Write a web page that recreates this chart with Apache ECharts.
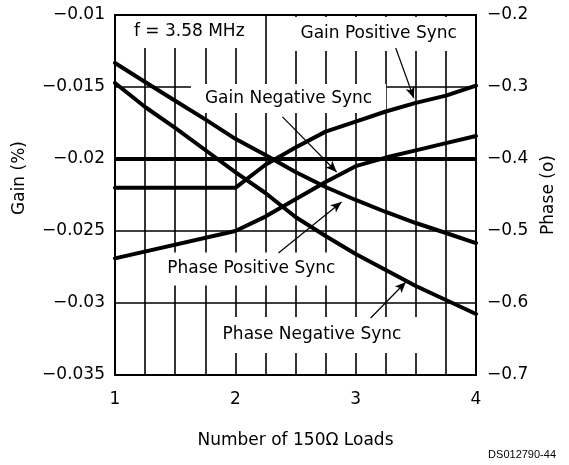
<!DOCTYPE html>
<html>
<head>
<meta charset="utf-8">
<script src="https://cdn.jsdelivr.net/npm/echarts@6/dist/echarts.min.js"></script>
<style>
  html, body { margin: 0; padding: 0; background: #fff; }
  #chart { width: 569px; height: 465px; }
</style>
</head>
<body>
<div id="chart"></div>
<script>
// Gain curves (left axis, %), sampled against the number of 150 ohm loads
const gainLoads = [1, 2, 2.25, 2.5, 2.75, 3, 3.25, 3.5, 3.75, 4];
const gainPositiveSync = [-0.0220, -0.0220, -0.0204, -0.0192, -0.0181, -0.0174, -0.0167, -0.0161, -0.0156, -0.0149];
const gainNegativeSync = [-0.0269, -0.0250, -0.0240, -0.0228, -0.0216, -0.0205, -0.0199, -0.0194, -0.0189, -0.0184];

// Phase curves (right axis, degrees)
const phaseLoads = [1, 1.25, 1.5, 1.75, 2, 2.25, 2.5, 2.75, 3, 3.25, 3.5, 3.75, 4];
const phasePositiveSync = [-0.2667, -0.2930, -0.3190, -0.3450, -0.3720, -0.3944, -0.4181, -0.4389, -0.4569, -0.4736, -0.4889, -0.5028, -0.5167];
const phaseNegativeSync = [-0.2944, -0.3278, -0.3569, -0.3875, -0.4181, -0.4472, -0.4806, -0.5069, -0.5319, -0.5542, -0.5764, -0.5958, -0.6153];

// Heavy reference level across the plot
const referenceLoads = [1, 4];
const referenceGain = [-0.02, -0.02];

// Axis ranges and tick steps
const loadRange = [1, 4, 0.25];
const gainRange = [-0.035, -0.01, 0.005];
const phaseRange = [-0.7, -0.2, 0.1];

// Curve captions (white boxes that break the grid) and their pointer arrows,
// placed in load / gain units at the box centre; padding is [top, right, bottom, left]
const captions = [
  { text: 'f = 3.58 MHz',        at: [1.617, -0.01118], pad: [7, 17, 7, 17] },
  { text: 'Gain Positive Sync',  at: [3.133, -0.01132], pad: [8, 18, 8, 32] },
  { text: 'Gain Negative Sync',  at: [2.442, -0.01580], pad: [6, 14, 5, 14] },
  { text: 'Phase Positive Sync', at: [2.133, -0.02764], pad: [8, 16, 7, 16] },
  { text: 'Phase Negative Sync', at: [2.708, -0.03222], pad: [9, 30, 9, 13] }
];
const pointers = [
  [[3.333, -0.01229], [3.483, -0.01576]],
  [[2.392, -0.01708], [2.842, -0.02090]],
  [[2.358, -0.02653], [2.883, -0.02299]],
  [[3.125, -0.03104], [3.417, -0.02854]]
];

const FONT = 'DejaVu Sans';
const pair = (xs, ys) => xs.map((x, i) => [x, ys[i]]);
const minus = s => '\u2212' + s;

const curve = (name, xs, ys, axis) => ({
  name, type: 'line', yAxisIndex: axis, data: pair(xs, ys),
  showSymbol: false, symbol: 'none', z: 3,
  lineStyle: { color: '#000', width: 4, cap: 'round', join: 'round' }
});

const chart = echarts.init(document.getElementById('chart'), null, { renderer: 'canvas' });

chart.setOption({
  animation: false,
  backgroundColor: '#fff',
  textStyle: { fontFamily: FONT, color: '#000' },
  grid: { left: 115, right: 93, top: 15, bottom: 90, show: true, borderColor: '#000', borderWidth: 2 },
  xAxis: {
    type: 'value', min: loadRange[0], max: loadRange[1], interval: loadRange[2],
    name: 'Number of 150\u03A9 Loads', nameLocation: 'middle', nameGap: 57,
    nameTextStyle: { fontSize: 17, color: '#000', fontFamily: FONT },
    axisLine: { show: true, lineStyle: { color: '#000', width: 2 } },
    axisTick: { show: false },
    axisLabel: {
      fontSize: 17, color: '#000', margin: 16, fontFamily: FONT,
      formatter: v => Number.isInteger(v) ? String(v) : ''
    },
    splitLine: { show: true, lineStyle: { color: '#000', width: 1.6 } }
  },
  yAxis: [
    {
      type: 'value', min: gainRange[0], max: gainRange[1], interval: gainRange[2],
      position: 'left',
      axisLine: { show: true, lineStyle: { color: '#000', width: 2 } },
      axisTick: { show: false },
      axisLabel: {
        fontSize: 17, color: '#000', margin: 10, fontFamily: FONT,
        formatter: v => minus(String(+Math.abs(v).toFixed(3)))
      },
      splitLine: { show: true, lineStyle: { color: '#000', width: 1.6 } }
    },
    {
      type: 'value', min: phaseRange[0], max: phaseRange[1], interval: phaseRange[2],
      position: 'right',
      name: 'Phase (o)', nameLocation: 'middle', nameGap: 64,
      nameTextStyle: { fontSize: 17, color: '#000', fontFamily: FONT },
      axisLine: { show: true, lineStyle: { color: '#000', width: 2 } },
      axisTick: { show: false },
      axisLabel: {
        fontSize: 17, color: '#000', margin: 11, fontFamily: FONT,
        formatter: v => minus(String(+Math.abs(v).toFixed(1)))
      },
      splitLine: { show: false }
    }
  ],
  graphic: [
    {
      type: 'text', x: 20, y: 178, rotation: Math.PI / 2,
      style: { text: 'Gain (%)', fontSize: 17, fontFamily: FONT, fill: '#000', align: 'center', verticalAlign: 'middle' }
    },
    {
      type: 'text', x: 556, y: 455,
      style: { text: 'DS012790-44', fontSize: 11, fontFamily: 'Liberation Sans', fill: '#000', align: 'right', verticalAlign: 'middle' }
    }
  ],
  series: [
    {
      name: 'captions', type: 'scatter', z: 1, silent: true,
      symbolSize: 0,
      itemStyle: { color: '#000', opacity: 1 },
      data: captions.map(c => ({
        value: c.at,
        label: {
          show: true, position: 'inside', formatter: c.text,
          fontSize: 17, fontFamily: FONT, color: '#000', lineHeight: 18,
          textBorderWidth: 0, textBorderColor: 'transparent', opacity: 1,
          backgroundColor: '#fff', padding: c.pad
        }
      })),
      markLine: {
        silent: true, animation: false,
        symbol: ['none', 'arrow'], symbolSize: [7, 11],
        label: { show: false },
        lineStyle: { color: '#000', width: 1.2, type: 'solid', opacity: 1 },
        data: pointers.map(([a, b]) => [{ coord: a }, { coord: b }])
      }
    },
    {
      name: 'reference', type: 'line', data: pair(referenceLoads, referenceGain),
      showSymbol: false, symbol: 'none', z: 3,
      lineStyle: { color: '#000', width: 4 }
    },
    curve('Gain Positive Sync', gainLoads, gainPositiveSync, 0),
    curve('Gain Negative Sync', gainLoads, gainNegativeSync, 0),
    curve('Phase Positive Sync', phaseLoads, phasePositiveSync, 1),
    curve('Phase Negative Sync', phaseLoads, phaseNegativeSync, 1)
  ]
});
</script>
</body>
</html>
